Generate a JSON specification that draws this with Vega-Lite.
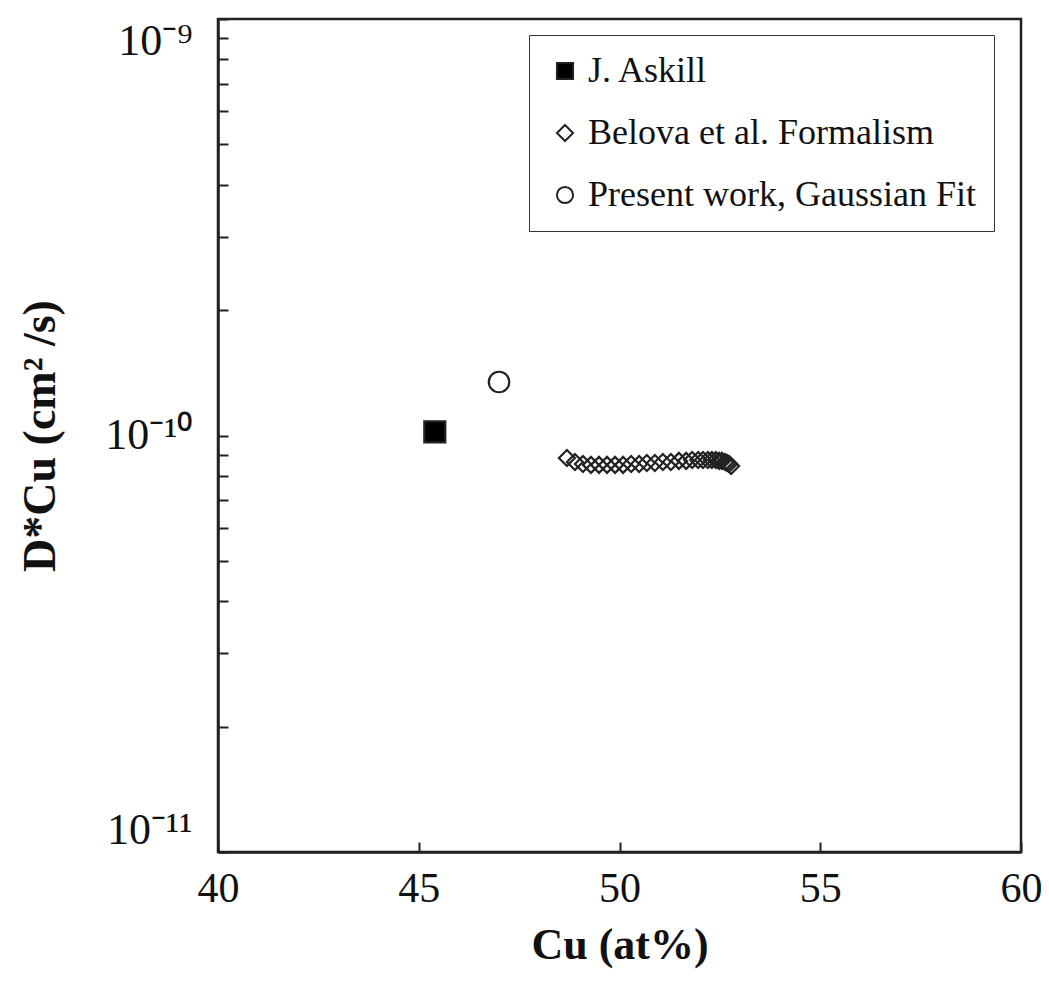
{
  "$schema": "https://vega.github.io/schema/vega-lite/v6.json",
  "width": 803,
  "height": 833,
  "autosize": "none",
  "padding": {"left": 218, "top": 19, "right": 28, "bottom": 129},
  "background": "white",
  "config": {
    "font": "Liberation Serif",
    "view": {"stroke": "#222", "strokeWidth": 2.5},
    "axis": {
      "domainColor": "#222", "domainWidth": 2.5, "tickColor": "#222", "tickWidth": 2,
      "grid": false, "labelFont": "Liberation Serif", "titleFont": "Liberation Serif",
      "labelColor": "#111", "titleColor": "#111"
    },
    "legend": {
      "orient": "none", "legendX": 311, "legendY": 16,
      "strokeColor": "#333", "fillColor": "white",
      "padding": 18, "labelFont": "Liberation Serif", "labelFontSize": 36, "labelColor": "#111", "rowPadding": 26,
      "symbolSize": 260, "symbolStrokeWidth": 2, "labelOffset": 5,
      "labelLimit": 600
    }
  },
  "data": {
    "values": [
      {"series": "J. Askill", "cu": 45.40, "d": 1.02e-10},
      {"series": "Present work, Gaussian Fit", "cu": 47.0, "d": 1.344e-10},
      {"series": "Belova et al. Formalism", "cu": 48.69, "d": 8.83e-11},
      {"series": "Belova et al. Formalism", "cu": 48.89, "d": 8.64e-11},
      {"series": "Belova et al. Formalism", "cu": 49.09, "d": 8.54e-11},
      {"series": "Belova et al. Formalism", "cu": 49.29, "d": 8.50e-11},
      {"series": "Belova et al. Formalism", "cu": 49.49, "d": 8.50e-11},
      {"series": "Belova et al. Formalism", "cu": 49.69, "d": 8.50e-11},
      {"series": "Belova et al. Formalism", "cu": 49.89, "d": 8.50e-11},
      {"series": "Belova et al. Formalism", "cu": 50.09, "d": 8.50e-11},
      {"series": "Belova et al. Formalism", "cu": 50.29, "d": 8.54e-11},
      {"series": "Belova et al. Formalism", "cu": 50.49, "d": 8.54e-11},
      {"series": "Belova et al. Formalism", "cu": 50.68, "d": 8.59e-11},
      {"series": "Belova et al. Formalism", "cu": 50.88, "d": 8.59e-11},
      {"series": "Belova et al. Formalism", "cu": 51.08, "d": 8.64e-11},
      {"series": "Belova et al. Formalism", "cu": 51.28, "d": 8.64e-11},
      {"series": "Belova et al. Formalism", "cu": 51.48, "d": 8.69e-11},
      {"series": "Belova et al. Formalism", "cu": 51.66, "d": 8.69e-11},
      {"series": "Belova et al. Formalism", "cu": 51.81, "d": 8.73e-11},
      {"series": "Belova et al. Formalism", "cu": 51.96, "d": 8.73e-11},
      {"series": "Belova et al. Formalism", "cu": 52.08, "d": 8.73e-11},
      {"series": "Belova et al. Formalism", "cu": 52.20, "d": 8.73e-11},
      {"series": "Belova et al. Formalism", "cu": 52.30, "d": 8.73e-11},
      {"series": "Belova et al. Formalism", "cu": 52.40, "d": 8.73e-11},
      {"series": "Belova et al. Formalism", "cu": 52.48, "d": 8.69e-11},
      {"series": "Belova et al. Formalism", "cu": 52.55, "d": 8.69e-11},
      {"series": "Belova et al. Formalism", "cu": 52.63, "d": 8.64e-11},
      {"series": "Belova et al. Formalism", "cu": 52.68, "d": 8.59e-11},
      {"series": "Belova et al. Formalism", "cu": 52.73, "d": 8.54e-11},
      {"series": "Belova et al. Formalism", "cu": 52.78, "d": 8.45e-11}
    ]
  },
  "mark": {"type": "point", "strokeWidth": 2.2, "opacity": 1},
  "encoding": {
    "x": {
      "field": "cu", "type": "quantitative",
      "scale": {"domain": [40, 60], "nice": false, "zero": false},
      "axis": {
        "values": [40, 45, 50, 55, 60], "tickSize": -10, "labelPadding": 26,
        "labelFontSize": 42, "title": "Cu (at%)", "titleFontSize": 44, "titleFontWeight": "bold",
        "titlePadding": 14, "labelFlush": false
      }
    },
    "y": {
      "field": "d", "type": "quantitative",
      "scale": {"type": "log", "domain": [1e-11, 1e-9], "nice": false},
      "axis": {
        "values": [1e-11, 2e-11, 3e-11, 4e-11, 5e-11, 6e-11, 7e-11, 8e-11, 9e-11, 1e-10, 2e-10, 3e-10, 4e-10, 5e-10, 6e-10, 7e-10, 8e-10, 9e-10, 1e-9],
        "labelExpr": "datum.value == 1e-9 ? '10⁻⁹' : datum.value == 1e-10 ? '10⁻¹⁰' : datum.value == 1e-11 ? '10⁻¹¹' : ''",
        "tickSize": -10, "labelPadding": 36, "labelFontSize": 44, "labelFlush": true,
        "title": "D*Cu (cm² /s)", "titleFontSize": 46, "titleFontWeight": "bold", "titlePadding": 40
      }
    },
    "shape": {
      "field": "series", "type": "nominal",
      "scale": {"domain": ["J. Askill", "Belova et al. Formalism", "Present work, Gaussian Fit"], "range": ["square", "diamond", "circle"]},
      "legend": {"title": null}
    },
    "fill": {
      "field": "series", "type": "nominal",
      "scale": {"domain": ["J. Askill", "Belova et al. Formalism", "Present work, Gaussian Fit"], "range": ["#000000", "transparent", "transparent"]},
      "legend": {"title": null}
    },
    "stroke": {
      "field": "series", "type": "nominal",
      "scale": {"domain": ["J. Askill", "Belova et al. Formalism", "Present work, Gaussian Fit"], "range": ["#222222", "#222222", "#222222"]},
      "legend": {"title": null}
    },
    "size": {
      "condition": [
        {"test": "datum.series == 'J. Askill'", "value": 441},
        {"test": "datum.series == 'Present work, Gaussian Fit'", "value": 420}
      ],
      "value": 256
    }
  }
}
